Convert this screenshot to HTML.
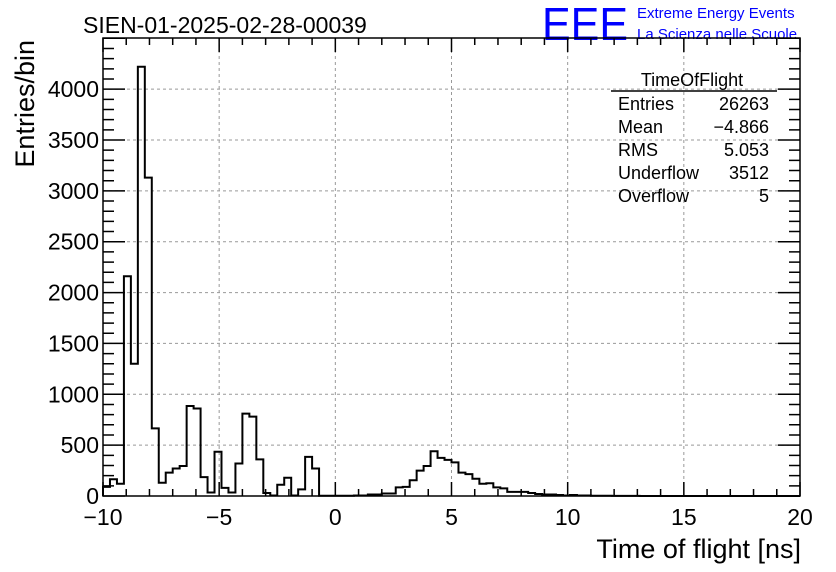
<!DOCTYPE html>
<html><head><meta charset="utf-8"><style>
body{margin:0;background:#fff;}
svg{display:block;font-family:"Liberation Sans",Arial,sans-serif;}
</style></head><body>
<svg id="chart" width="836" height="572">
<rect width="836" height="572" fill="#fff"/>
<text x="83" y="33" font-size="23">SIEN-01-2025-02-28-00039</text>
<text x="542" y="40" font-size="46" fill="#0000ff" textLength="86" lengthAdjust="spacingAndGlyphs">EEE</text>
<text x="637" y="18" font-size="15" fill="#0000ff">Extreme Energy Events</text>
<text x="637" y="39" font-size="15" fill="#0000ff">La Scienza nelle Scuole</text>
<g id="grid"></g>
<g id="axes"></g>
<path id="hist" fill="none" stroke="#000" stroke-width="2"/>
<text x="34" y="40" font-size="27" transform="rotate(-90 34 40)" text-anchor="end">Entries/bin</text>
<text x="801" y="558" font-size="27" text-anchor="end">Time of flight [ns]</text>
<g font-size="18">
<text x="692" y="86" text-anchor="middle">TimeOfFlight</text>
<line x1="611" y1="91" x2="777" y2="91" stroke="#000" stroke-width="1.5"/>
<text x="618" y="110">Entries</text><text x="769" y="110" text-anchor="end">26263</text>
<text x="618" y="133">Mean</text><text x="769" y="133" text-anchor="end">−4.866</text>
<text x="618" y="156">RMS</text><text x="769" y="156" text-anchor="end">5.053</text>
<text x="618" y="179">Underflow</text><text x="769" y="179" text-anchor="end">3512</text>
<text x="618" y="202">Overflow</text><text x="769" y="202" text-anchor="end">5</text>
</g>
</svg>
<script>
const xMin=-10, xMax=20, yMin=0, yMax=4503;
const binWidth=0.3;
const counts=[90,165,120,2160,1300,4220,3130,665,130,230,270,295,885,860,185,35,435,80,35,320,810,780,360,30,5,110,180,5,65,385,270,3,3,3,3,3,5,5,15,15,25,25,85,90,155,250,295,440,375,355,330,230,215,170,120,125,85,75,40,40,40,30,20,15,15,10,5,10,5,5,3,2,2,1,1,1,1,0,0,0,0,0,0,0,0,0,0,0,0,0,0,0,0,0,0,0,0,0,0,0];
const xTicks=[-10,-5,0,5,10,15,20];
const xTickLabels=["−10","−5","0","5","10","15","20"];
const yTicks=[0,500,1000,1500,2000,2500,3000,3500,4000];
const yTickLabels=["0","500","1000","1500","2000","2500","3000","3500","4000"];
const L=103,R=800,T=38,B=496;
const X=v=>L+(v-xMin)/(xMax-xMin)*(R-L);
const Y=v=>B-(v-yMin)/(yMax-yMin)*(B-T);
const NS="http://www.w3.org/2000/svg";
const grid=document.getElementById('grid'), axes=document.getElementById('axes');
function mk(tag,attrs,parent){const e=document.createElementNS(NS,tag);for(const k in attrs)e.setAttribute(k,attrs[k]);parent.appendChild(e);return e;}
xTicks.forEach((t,i)=>{
  if(t>xMin&&t<xMax){const g=mk('line',{x1:X(t),x2:X(t),y1:T,y2:B,stroke:'#999','stroke-dasharray':'3,3'},grid);
  
  }
  const lb=mk('text',{x:X(t),y:B+29,'font-size':23,'text-anchor':'middle'},axes);lb.textContent=xTickLabels[i];
  
  
});
yTicks.forEach((t,i)=>{
  if(t>yMin){const g=mk('line',{x1:L,x2:R,y1:Y(t),y2:Y(t),stroke:'#999','stroke-dasharray':'3,3'},grid);
  
  }
  const lb=mk('text',{x:L-4,y:Y(t)+8,'font-size':23,'text-anchor':'end'},axes);lb.textContent=yTickLabels[i];
  
  
});
let d='';
for(let v=xMin;v<=xMax;v+=1){const len=(v%5===0)?14:7;
  d+=`M${X(v)},${B}v${-len}M${X(v)},${T}v${len}`;}
for(let v=0;v<=yMax;v+=100){const len=(v%500===0)?22:11;
  d+=`M${L},${Y(v)}h${len}M${R},${Y(v)}h${-len}`;}
const tk=mk('path',{d:d,stroke:'#000','stroke-width':1.5,fill:'none'},axes);


const fr=mk('rect',{x:L,y:T,width:R-L,height:B-T,fill:'none',stroke:'#000','stroke-width':1.5},axes);


let h=`M${X(xMin)},${Y(0)}`;
counts.forEach((c,i)=>{const x0=xMin+i*binWidth;h+=`L${X(x0)},${Y(c)}L${X(x0+binWidth)},${Y(c)}`;});
h+=`L${X(xMax)},${Y(0)}`;
document.getElementById('hist').setAttribute('d',h);
</script>
</body></html>
